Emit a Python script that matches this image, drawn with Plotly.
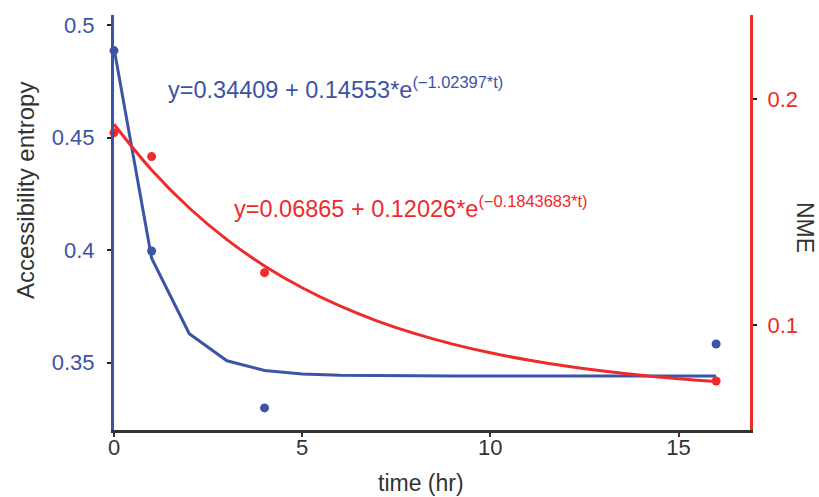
import plotly.graph_objects as go

# ---- data ----
t_data = [0, 1, 4, 16]
entropy_data = [0.4886, 0.3996, 0.3299, 0.3583]
nme_data = [0.1852, 0.1746, 0.1232, 0.0752]

t_fit = [0, 1, 2, 3, 4, 5, 6, 7, 8, 9, 10, 11, 12, 13, 14, 15, 16]
entropy_fit = [0.48962, 0.39636, 0.36286, 0.35083, 0.34651, 0.34496, 0.34440,
               0.34420, 0.34413, 0.34410, 0.34409, 0.34409, 0.34409, 0.34409,
               0.34409, 0.34409, 0.34409]
nme_fit = [0.18891, 0.16866, 0.15182, 0.13782, 0.12617, 0.11649, 0.10843,
           0.10174, 0.09617, 0.09153, 0.08768, 0.08448, 0.08181, 0.07960,
           0.07775, 0.07622, 0.07495]

x_ticks = [0, 5, 10, 15]
y_ticks = [0.35, 0.4, 0.45, 0.5]
y_ticktext = ["0.35", "0.4", "0.45", "0.5"]
y2_ticks = [0.1, 0.2]
y2_ticktext = ["0.1", "0.2"]

eq_blue = "y=0.34409 + 0.14553*e<sup>(\u22121.02397*t)</sup>"
eq_red = "y=0.06865 + 0.12026*e<sup>(\u22120.1843683*t)</sup>"

BLUE = "#3c54a5"
RED = "#ee2b2b"
FONT = "Liberation Sans, Arial, sans-serif"

fig = go.Figure()
fig.add_trace(go.Scatter(x=t_fit, y=entropy_fit, mode="lines",
                         line=dict(color=BLUE, width=3), yaxis="y",
                         cliponaxis=False, showlegend=False))
fig.add_trace(go.Scatter(x=t_data, y=entropy_data, mode="markers",
                         marker=dict(color=BLUE, size=9), yaxis="y",
                         cliponaxis=False, showlegend=False))
fig.add_trace(go.Scatter(x=t_fit, y=nme_fit, mode="lines",
                         line=dict(color=RED, width=3, shape="spline",
                                   smoothing=1), yaxis="y2",
                         cliponaxis=False, showlegend=False))
fig.add_trace(go.Scatter(x=t_data, y=nme_data, mode="markers",
                         marker=dict(color=RED, size=9), yaxis="y2",
                         cliponaxis=False, showlegend=False))

fig.update_layout(
    width=819, height=497,
    margin=dict(l=114, r=69, t=15, b=67),
    paper_bgcolor="white", plot_bgcolor="white",
    font=dict(family=FONT, size=22, color="#333333"),
    xaxis=dict(range=[0, 16.9], tickvals=x_ticks, ticks="outside", ticklen=4,
               tickwidth=2, tickcolor="#333333", showline=True,
               linecolor="#333333", linewidth=2.5, showgrid=False,
               zeroline=False, tickfont=dict(size=22, color="#333333"),
               ticklabelstandoff=-8),
    yaxis=dict(range=[0.3201, 0.5044], tickvals=y_ticks, ticktext=y_ticktext,
               ticks="outside", ticklen=4, tickwidth=2, tickcolor="#222222",
               showline=True, linecolor=BLUE, linewidth=3, showgrid=False,
               zeroline=False, tickfont=dict(size=22, color=BLUE),
               ticklabelstandoff=8),
    yaxis2=dict(range=[0.0535, 0.2373], tickvals=y2_ticks,
                ticktext=y2_ticktext, overlaying="y", side="right", anchor="x",
                ticks="outside", ticklen=4, tickwidth=2, tickcolor="#222222",
                showline=True, linecolor=RED, linewidth=3, showgrid=False,
                zeroline=False, tickfont=dict(size=22, color=RED),
                ticklabelstandoff=6),
    annotations=[
        dict(text=eq_blue, xref="paper", yref="paper",
             x=(166 - 114) / 636, y=(430 - 88) / 415, xanchor="left",
             yanchor="middle", showarrow=False,
             font=dict(size=23.5, color=BLUE, family=FONT)),
        dict(text=eq_red, xref="paper", yref="paper",
             x=(232 - 114) / 636, y=(430 - 207) / 415, xanchor="left",
             yanchor="middle", showarrow=False,
             font=dict(size=23.5, color=RED, family=FONT)),
        dict(text="Accessibility entropy", xref="paper", yref="paper",
             x=(25 - 114) / 636, y=(430 - 191) / 415, xanchor="center",
             yanchor="middle", textangle=-90, showarrow=False,
             font=dict(size=24, color="#333333", family=FONT)),
        dict(text="NME", xref="paper", yref="paper",
             x=(805 - 114) / 636, y=(430 - 227) / 415, xanchor="center",
             yanchor="middle", textangle=90, showarrow=False,
             font=dict(size=23, color="#333333", family=FONT)),
        dict(text="time (hr)", xref="paper", yref="paper",
             x=(421 - 114) / 636, y=(430 - 483) / 415, xanchor="center",
             yanchor="middle", showarrow=False,
             font=dict(size=23, color="#333333", family=FONT)),
    ],
)

fig.write_html("out.html")
